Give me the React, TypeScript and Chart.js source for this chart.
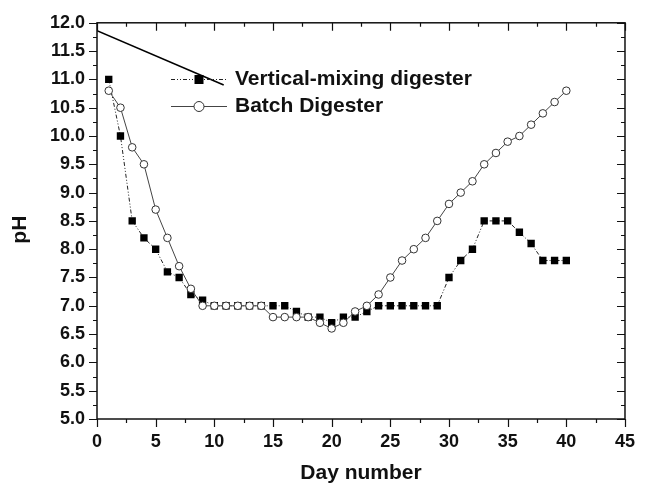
import React, { useEffect, useRef } from "react";
import { Chart, registerables } from "chart.js";

Chart.register(...registerables);

// ---- data ----
const days = [
  1, 2, 3, 4, 5, 6, 7, 8, 9, 10, 11, 12, 13, 14, 15, 16, 17, 18, 19, 20,
  21, 22, 23, 24, 25, 26, 27, 28, 29, 30, 31, 32, 33, 34, 35, 36, 37, 38, 39, 40,
];
const verticalMixing = [
  11.0, 10.0, 8.5, 8.2, 8.0, 7.6, 7.5, 7.2, 7.1, 7.0, 7.0, 7.0, 7.0, 7.0, 7.0, 7.0, 6.9, 6.8, 6.8, 6.7,
  6.8, 6.8, 6.9, 7.0, 7.0, 7.0, 7.0, 7.0, 7.0, 7.5, 7.8, 8.0, 8.5, 8.5, 8.5, 8.3, 8.1, 7.8, 7.8, 7.8,
];
const batchDigester = [
  10.8, 10.5, 9.8, 9.5, 8.7, 8.2, 7.7, 7.3, 7.0, 7.0, 7.0, 7.0, 7.0, 7.0, 6.8, 6.8, 6.8, 6.8, 6.7, 6.6,
  6.7, 6.9, 7.0, 7.2, 7.5, 7.8, 8.0, 8.2, 8.5, 8.8, 9.0, 9.2, 9.5, 9.7, 9.9, 10.0, 10.2, 10.4, 10.6, 10.8,
];
const pointerLineX = [0, 10.8];
const pointerLineY = [11.86, 10.9];
const seriesNames = ["Vertical-mixing digester", "Batch Digester"];
const xAxisTitle = "Day number";
const yAxisTitle = "pH";
const xRange = [0, 45];
const yRange = [5, 12];
const xStep = 5;
const yStep = 0.5;

const FONT = "'Liberation Sans', Arial, Helvetica, sans-serif";
const DASH_DOT_DOT = [4, 2, 1, 2, 1, 2];

const framePlugin = {
  id: "frameTicks",
  afterDatasetsDraw(chart: any) {
    const { ctx, chartArea } = chart;
    const { left, right, top, bottom } = chartArea;
    const xs = chart.scales.x;
    const ys = chart.scales.y;
    ctx.save();
    ctx.strokeStyle = "#111";
    ctx.lineWidth = 1.5;
    ctx.strokeRect(left, top, right - left, bottom - top);
    ctx.lineWidth = 1.2;
    const major = 8;
    const minor = 4;
    const xMaj = xs.ticks.map((t: any) => t.value);
    const yMaj = ys.ticks.map((t: any) => t.value);
    const drawX = (v: number, len: number) => {
      const px = Math.round(xs.getPixelForValue(v)) + 0.5;
      ctx.beginPath();
      ctx.moveTo(px, bottom);
      ctx.lineTo(px, bottom + len);
      ctx.moveTo(px, top);
      ctx.lineTo(px, top + len);
      ctx.stroke();
    };
    const drawY = (v: number, len: number) => {
      const py = Math.round(ys.getPixelForValue(v)) + 0.5;
      ctx.beginPath();
      ctx.moveTo(left, py);
      ctx.lineTo(left - len, py);
      ctx.moveTo(right, py);
      ctx.lineTo(right - len, py);
      ctx.stroke();
    };
    xMaj.forEach((v: number, i: number) => {
      drawX(v, major);
      if (i < xMaj.length - 1) drawX((v + xMaj[i + 1]) / 2, minor);
    });
    yMaj.forEach((v: number, i: number) => {
      drawY(v, major);
      if (i < yMaj.length - 1) drawY((v + yMaj[i + 1]) / 2, minor);
    });
    ctx.restore();
  },
};

const legendPlugin = {
  id: "insideLegend",
  afterDraw(chart: any) {
    const { ctx } = chart;
    const x0 = 171;
    const x1 = 227;
    const xm = (x0 + x1) / 2;
    const tx = 235;
    const rows = [79, 106];
    ctx.save();
    // row 1
    ctx.strokeStyle = "#222";
    ctx.lineWidth = 1;
    ctx.setLineDash(DASH_DOT_DOT);
    ctx.beginPath();
    ctx.moveTo(x0, rows[0] + 0.5);
    ctx.lineTo(x1, rows[0] + 0.5);
    ctx.stroke();
    ctx.setLineDash([]);
    ctx.fillStyle = "#000";
    ctx.fillRect(xm - 4.5, rows[0] - 4, 9, 9);
    // row 2
    ctx.strokeStyle = "#444";
    ctx.beginPath();
    ctx.moveTo(x0, rows[1] + 0.5);
    ctx.lineTo(x1, rows[1] + 0.5);
    ctx.stroke();
    ctx.beginPath();
    ctx.arc(xm, rows[1] + 0.5, 5, 0, Math.PI * 2);
    ctx.fillStyle = "#fff";
    ctx.fill();
    ctx.strokeStyle = "#333";
    ctx.stroke();
    // text
    ctx.fillStyle = "#111";
    ctx.font = `bold 21px ${FONT}`;
    ctx.textBaseline = "middle";
    ctx.textAlign = "left";
    ctx.fillText(seriesNames[0], tx, rows[0]);
    ctx.fillText(seriesNames[1], tx, rows[1]);
    ctx.restore();
  },
};

export default function App() {
  const ref = useRef<HTMLCanvasElement | null>(null);
  useEffect(() => {
    if (!ref.current) return;
    const chart = new Chart(ref.current, {
      type: "line",
      data: {
        datasets: [
          {
            label: seriesNames[1],
            data: days.map((d, i) => ({ x: d, y: batchDigester[i] })),
            borderColor: "#444",
            borderWidth: 1,
            pointStyle: "circle",
            pointRadius: 3.8,
            pointBackgroundColor: "#fff",
            pointBorderColor: "#333",
            pointBorderWidth: 1,
            tension: 0,
            order: 0,
          },
          {
            label: seriesNames[0],
            data: days.map((d, i) => ({ x: d, y: verticalMixing[i] })),
            borderColor: "#222",
            borderWidth: 1,
            borderDash: DASH_DOT_DOT,
            pointStyle: "rect",
            pointRadius: 5.2,
            pointBackgroundColor: "#000",
            pointBorderColor: "#000",
            pointBorderWidth: 0,
            tension: 0,
            order: 1,
          },
          {
            label: "pointer",
            data: pointerLineX.map((x, i) => ({ x, y: pointerLineY[i] })),
            borderColor: "#000",
            borderWidth: 1.6,
            pointRadius: 0,
            tension: 0,
            order: 2,
          },
        ],
      },
      options: {
        animation: false,
        responsive: false,
        events: [],
        layout: { padding: { left: 0, top: 16, right: 10, bottom: 0 } },
        plugins: {
          legend: { display: false },
          tooltip: { enabled: false },
        },
        scales: {
          x: {
            type: "linear",
            min: xRange[0],
            max: xRange[1],
            grid: { display: false, drawTicks: false },
            border: { display: false },
            ticks: {
              stepSize: xStep,
              autoSkip: false,
              maxRotation: 0,
              padding: 12,
              color: "#111",
              font: { family: FONT, size: 18, weight: "bold" },
            },
            title: {
              display: true,
              text: xAxisTitle,
              color: "#111",
              font: { family: FONT, size: 21, weight: "bold" },
              padding: { top: 0, bottom: 0 },
            },
            afterFit(s: any) {
              s.height = 67;
            },
          },
          y: {
            type: "linear",
            min: yRange[0],
            max: yRange[1],
            grid: { display: false, drawTicks: false },
            border: { display: false },
            ticks: {
              stepSize: yStep,
              autoSkip: false,
              padding: 12,
              color: "#111",
              font: { family: FONT, size: 18, weight: "bold" },
              callback: (v: any) => Number(v).toFixed(1),
            },
            title: {
              display: true,
              text: yAxisTitle + "   ",
              color: "#111",
              font: { family: FONT, size: 21, weight: "bold" },
              padding: { top: 8, bottom: 0 },
            },
            afterFit(s: any) {
              s.width = 97;
            },
          },
        },
      },
      plugins: [framePlugin, legendPlugin],
    });
    return () => chart.destroy();
  }, []);
  return (
    <div style={{ position: "fixed", left: 0, top: 0, width: 647, height: 486, background: "#fff" }}>
      <canvas ref={ref} width={647} height={486} style={{ display: "block" }} />
    </div>
  );
}
